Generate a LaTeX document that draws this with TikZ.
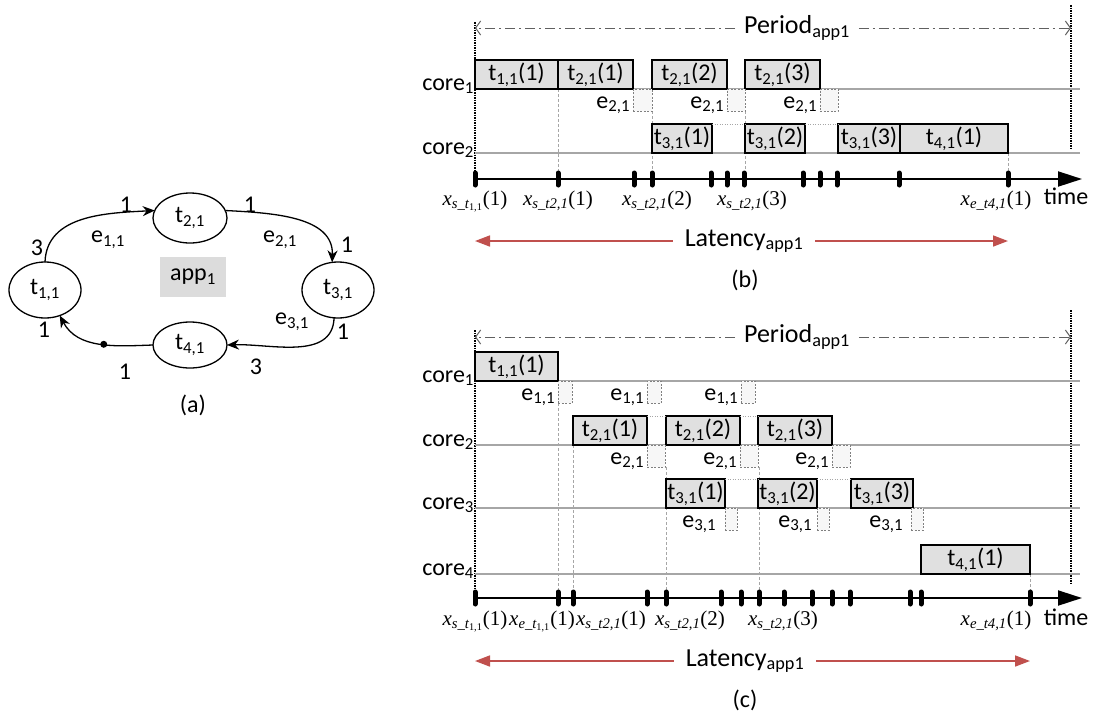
\documentclass[tikz,border=0pt]{standalone}
\usepackage{fontspec}
\setmainfont{Carlito}
\newfontfamily\mfont{Liberation Serif}
\usetikzlibrary{arrows.meta,shapes.geometric}
\definecolor{boxgray}{HTML}{E0E0E0}
\definecolor{appgray}{HTML}{DCDCDC}
\definecolor{linegray}{HTML}{A6A6A6}
\definecolor{latred}{HTML}{C0504D}
\definecolor{pergray}{HTML}{606060}
% name, x1, x2, y1, y2, text  (optional style)
\newcommand\tbx[7][tbox]{\node[#1,minimum width={(#4-#3)*1pt},minimum height={(#6-#5)*1pt}] (#2) at ({(#3+#4)/2},{(#5+#6)/2}) {#7};}
% x label: letter, subscript text, argument
\newcommand\xlab[3]{\textit{x}\textsubscript{\itshape #1\_#2}(#3)}
\begin{document}
\begin{tikzpicture}[x=1pt,y=-1pt,
 every node/.style={inner sep=0pt, outer sep=0pt},
 txt/.style={font=\fontsize{24}{28}\selectfont},
 tbox/.style={txt, draw=black, line width=1.3pt, fill=boxgray},
 ebox/.style={draw=gray, line width=0.9pt, dash pattern=on 2pt off 1.5pt, fill=gray!6},
 elab/.style={txt, anchor=base east},
 corelab/.style={txt, anchor=base east},
 coreline/.style={draw=linegray, line width=1.5pt},
 guide/.style={draw=gray!70, line width=0.7pt, dash pattern=on 3pt off 2pt},
 link/.style={draw=gray!70, line width=0.7pt, dash pattern=on 1pt off 1.5pt},
 vdot/.style={draw=black, line width=1.1pt, dash pattern=on 1.5pt off 1pt},
 tickm/.style={line width=5pt, line cap=round},
 taxis/.style={line width=2pt, -{Triangle[length=24pt,width=15pt]}},
 xl/.style={anchor=base, font=\mfont\fontsize{21}{24}\selectfont},
 biglab/.style={font=\fontsize{26}{30}\selectfont, inner xsep=9pt},
 period/.style={draw=pergray, line width=1pt, dash pattern=on 10pt off 4pt on 2pt off 4pt, -{Straight Barb[length=5pt,width=14pt]}},
 latency/.style={draw=latred, line width=1.6pt, -{Triangle[length=15pt,width=11pt]}},
 state/.style={txt, ellipse, draw, line width=1.3pt},
 gedge/.style={line width=1.3pt, -{Stealth[length=12pt,width=10pt]}},
]
\useasboundingbox (0,0) rectangle (1096,716);
\fill[white] (0,0) rectangle (1096,716);

% ---------------- (a) ----------------
\node[state, minimum width=72pt, minimum height=56pt] (t11) at (45,290) {t\textsubscript{1,1}};
\node[state, minimum width=74pt, minimum height=50pt] (t21) at (190,218) {t\textsubscript{2,1}};
\node[state, minimum width=72pt, minimum height=56pt] (t31) at (338,290) {t\textsubscript{3,1}};
\node[state, minimum width=74pt, minimum height=46pt] (t41) at (190,345) {t\textsubscript{4,1}};
\node[txt, fill=appgray, minimum width=66pt, minimum height=40pt] (app) at (193,277) {app\textsubscript{1}};
\draw[gedge] (t11.north) to[out=88,in=183] (t21.168);
\draw[gedge] (t21.12) to[out=-3,in=88] (t31.102);
\draw[gedge] (t31.262) to[out=-92,in=2] (t41.east);
\draw[gedge] (t41.west) to[out=182,in=-62] node[pos=0.45, circle, fill, minimum size=7pt] (dot) {} (t11.-60);
\node[txt] (la1) at (37,248) {3};
\node[txt] (la2) at (126,205) {1};
\node[txt] (la3) at (108,240) {e\textsubscript{1,1}};
\node[txt] (la4) at (250,205) {1};
\node[txt] (la5) at (280,240) {e\textsubscript{2,1}};
\node[txt] (la6) at (347,245) {1};
\node[txt] (la7) at (292,322) {e\textsubscript{3,1}};
\node[txt] (la8) at (343,332) {1};
\node[txt] (la9) at (256,367) {3};
\node[txt] (la10) at (125,372) {1};
\node[txt] (la11) at (44,330) {1};
\node[txt] (capa) at (193,405) {(a)};

% ---------------- (b) ----------------
\draw[vdot] (475,22) -- (475,179);
\draw[vdot] (1071,5) -- (1071,148);
\node[biglab] (perb) at (797,28) {Period\textsubscript{app1}};
\draw[period] (perb.west) -- (475,28);
\draw[period] (perb.east) -- (1071,28);
% guides
\draw[guide] (558,89) -- (558,179);
\draw[guide] (652,111) -- (652,179);
\draw[guide] (745,111) -- (745,179);
\draw[guide] (1008,153) -- (1008,179);
% core lines
\node[corelab] (bc1) at (474,90) {core\textsubscript{1}};
\node[corelab] (bc2) at (474,154) {core\textsubscript{2}};
\draw[coreline] (475,89) -- (1080,89);
\draw[coreline] (475,153) -- (1080,153);
% core1 tasks
\tbx{b11}{475}{558}{60}{89}{t\textsubscript{1,1}(1)}
\tbx{b21}{558}{633}{60}{89}{t\textsubscript{2,1}(1)}
\tbx{b22}{652}{727}{60}{89}{t\textsubscript{2,1}(2)}
\tbx{b23}{745}{820}{60}{89}{t\textsubscript{2,1}(3)}
\tbx[ebox]{be1}{633}{652}{89}{111}{}
\tbx[ebox]{be2}{727}{745}{89}{111}{}
\tbx[ebox]{be3}{820}{838}{89}{111}{}
\node[elab] (bel1) at (630,108) {e\textsubscript{2,1}};
\node[elab] (bel2) at (724,108) {e\textsubscript{2,1}};
\node[elab] (bel3) at (817,108) {e\textsubscript{2,1}};
% core2 tasks
\tbx{b31}{652}{712}{124}{153}{t\textsubscript{3,1}(1)}
\tbx{b32}{745}{805}{124}{153}{t\textsubscript{3,1}(2)}
\tbx{b33}{838}{900}{124}{153}{t\textsubscript{3,1}(3)}
\tbx{b41}{900}{1008}{124}{153}{t\textsubscript{4,1}(1)}
\draw[link] (b31.north east) -- (b32.north west);
\draw[link] (b32.north east) -- (b33.north west);
% axis
\draw[taxis] (475,179) -- (1082,179);
\foreach \x in {475,558,634,652,711,727,744,803,820,837,899,1008}
  \draw[tickm] (\x,173) -- (\x,185);
\node[xl] (bx1) at (475,205) {\xlab{s}{t\textsubscript{\upshape 1,1}}{1}};
\node[xl] (bx2) at (558,205) {\xlab{s}{t2,1}{1}};
\node[xl] (bx3) at (657,205) {\xlab{s}{t2,1}{2}};
\node[xl] (bx4) at (752,205) {\xlab{s}{t2,1}{3}};
\node[xl] (bx5) at (996,205) {\xlab{e}{t4,1}{1}};
\node[txt, anchor=base] (btime) at (1066,204) {time};
% latency
\node[biglab, inner xsep=12pt] (latb) at (744,241) {Latency\textsubscript{app1}};
\draw[latency] (latb.west) -- (475,241);
\draw[latency] (latb.east) -- (1008,241);
\node[txt] (capb) at (745,280) {(b)};

% ---------------- (c) ----------------
\draw[vdot] (475,330) -- (475,598);
\draw[vdot] (1071,310) -- (1071,585);
\node[biglab] (perc) at (797,337) {Period\textsubscript{app1}};
\draw[period] (perc.west) -- (475,337);
\draw[period] (perc.east) -- (1071,337);
% guides
\draw[guide] (558,403) -- (558,598);
\draw[guide] (573,445) -- (573,598);
\draw[guide] (666,467) -- (666,598);
\draw[guide] (759,467) -- (759,598);
\draw[guide] (1030,574) -- (1030,598);
% core lines
\node[corelab] (cc1) at (474,382) {core\textsubscript{1}};
\node[corelab] (cc2) at (474,446) {core\textsubscript{2}};
\node[corelab] (cc3) at (474,509) {core\textsubscript{3}};
\node[corelab] (cc4) at (474,575) {core\textsubscript{4}};
\draw[coreline] (475,381) -- (1080,381);
\draw[coreline] (475,445) -- (1080,445);
\draw[coreline] (475,508) -- (1080,508);
\draw[coreline] (475,574) -- (1080,574);
% core1
\tbx{c11}{475}{558}{352}{381}{t\textsubscript{1,1}(1)}
\tbx[ebox]{ce11}{558}{572}{381}{403}{}
\tbx[ebox]{ce12}{647}{661}{381}{403}{}
\tbx[ebox]{ce13}{741}{755}{381}{403}{}
\node[elab] (cel11) at (555,400) {e\textsubscript{1,1}};
\node[elab] (cel12) at (644,400) {e\textsubscript{1,1}};
\node[elab] (cel13) at (738,400) {e\textsubscript{1,1}};
% core2
\tbx{c21}{573}{647}{416}{445}{t\textsubscript{2,1}(1)}
\tbx{c22}{666}{740}{416}{445}{t\textsubscript{2,1}(2)}
\tbx{c23}{758}{832}{416}{445}{t\textsubscript{2,1}(3)}
\draw[link] (c21.north east) -- (c22.north west);
\draw[link] (c22.north east) -- (c23.north west);
\tbx[ebox]{ce21}{647}{665}{445}{467}{}
\tbx[ebox]{ce22}{740}{758}{445}{467}{}
\tbx[ebox]{ce23}{832}{850}{445}{467}{}
\node[elab] (cel21) at (644,464) {e\textsubscript{2,1}};
\node[elab] (cel22) at (737,464) {e\textsubscript{2,1}};
\node[elab] (cel23) at (829,464) {e\textsubscript{2,1}};
% core3
\tbx{c31}{666}{725}{479}{508}{t\textsubscript{3,1}(1)}
\tbx{c32}{758}{817}{479}{508}{t\textsubscript{3,1}(2)}
\tbx{c33}{851}{913}{479}{508}{t\textsubscript{3,1}(3)}
\draw[link] (c31.north east) -- (c32.north west);
\draw[link] (c32.north east) -- (c33.north west);
\tbx[ebox]{ce31}{725}{737}{508}{530}{}
\tbx[ebox]{ce32}{817}{829}{508}{530}{}
\tbx[ebox]{ce33}{911}{923}{508}{530}{}
\node[elab] (cel31) at (716,527) {e\textsubscript{3,1}};
\node[elab] (cel32) at (812,527) {e\textsubscript{3,1}};
\node[elab] (cel33) at (903,527) {e\textsubscript{3,1}};
% core4
\tbx{c41}{921}{1030}{545}{574}{t\textsubscript{4,1}(1)}
% axis
\draw[taxis] (475,598) -- (1082,598);
\foreach \x in {475,558,573,647,666,721,741,759,784,812,832,850,910,921,1030}
  \draw[tickm] (\x,592) -- (\x,604);
\node[xl] (cx1) at (475,625) {\xlab{s}{t\textsubscript{\upshape 1,1}}{1}};
\node[xl] (cx2) at (542,625) {\xlab{e}{t\textsubscript{\upshape 1,1}}{1}};
\node[xl] (cx3) at (611,625) {\xlab{s}{t2,1}{1}};
\node[xl] (cx4) at (690,625) {\xlab{s}{t2,1}{2}};
\node[xl] (cx5) at (783,625) {\xlab{s}{t2,1}{3}};
\node[xl] (cx6) at (996,625) {\xlab{e}{t4,1}{1}};
\node[txt, anchor=base] (ctime) at (1066,625) {time};
% latency
\node[biglab, inner xsep=12pt] (latc) at (745,661) {Latency\textsubscript{app1}};
\draw[latency] (latc.west) -- (475,661);
\draw[latency] (latc.east) -- (1030,661);
\node[txt] (capc) at (745,700) {(c)};
\end{tikzpicture}
\end{document}
